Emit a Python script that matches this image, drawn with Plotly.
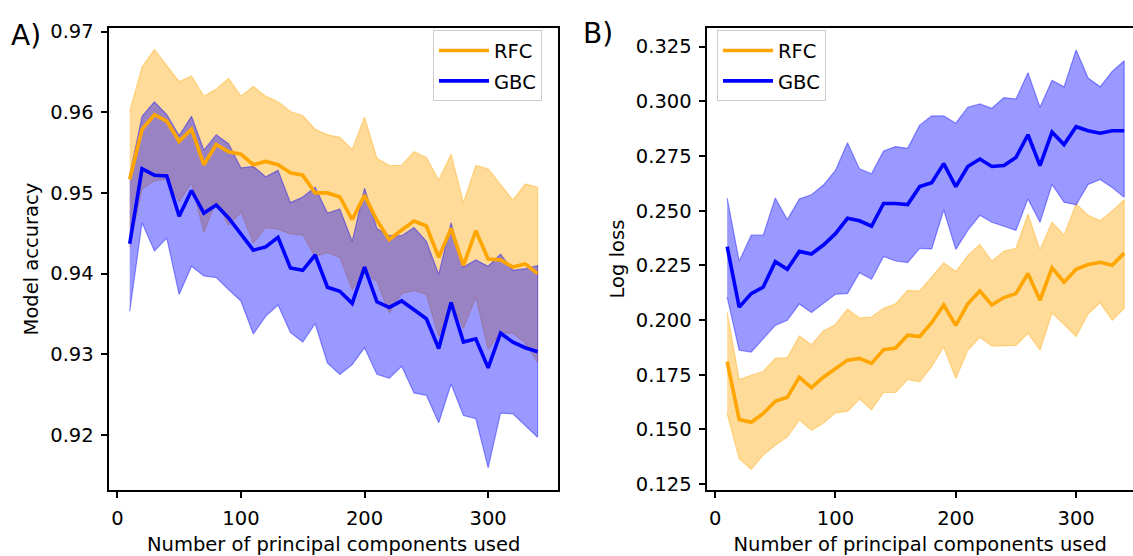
import plotly.graph_objects as go

# ---------------- data ----------------
n_components = [10, 20, 30, 40, 50, 60, 70, 80, 90, 100, 110, 120, 130, 140, 150, 160, 170,
                180, 190, 200, 210, 220, 230, 240, 250, 260, 270, 280, 290, 300, 310, 320, 330, 340]

# Panel A: model accuracy
rfc_acc_mean = [0.9517, 0.9579, 0.9597, 0.9589, 0.9564, 0.9579, 0.9535, 0.9560, 0.9551, 0.9548,
                0.9535, 0.9539, 0.9535, 0.9525, 0.9522, 0.9500, 0.9500, 0.9495, 0.9467, 0.9497,
                0.9466, 0.9442, 0.9454, 0.9465, 0.9459, 0.9420, 0.9456, 0.9410, 0.9453, 0.9418,
                0.9417, 0.9408, 0.9412, 0.9400]
rfc_acc_upper = [0.9601, 0.9656, 0.9678, 0.9658, 0.9638, 0.9645, 0.9620, 0.9629, 0.9642, 0.9620,
                 0.9632, 0.9620, 0.9613, 0.9601, 0.9596, 0.9579, 0.9572, 0.9569, 0.9554, 0.9594,
                 0.9543, 0.9534, 0.9534, 0.9551, 0.9544, 0.9516, 0.9548, 0.9488, 0.9534, 0.9530,
                 0.9510, 0.9491, 0.9511, 0.9507]
rfc_acc_lower = [0.9433, 0.9505, 0.9515, 0.9517, 0.9489, 0.9512, 0.9451, 0.9490, 0.9460, 0.9476,
                 0.9438, 0.9457, 0.9455, 0.9449, 0.9448, 0.9421, 0.9426, 0.9420, 0.9380, 0.9400,
                 0.9390, 0.9351, 0.9375, 0.9379, 0.9374, 0.9322, 0.9365, 0.9332, 0.9371, 0.9306,
                 0.9326, 0.9326, 0.9314, 0.9290]

gbc_acc_mean = [0.9437, 0.9530, 0.9522, 0.9521, 0.9471, 0.9503, 0.9475, 0.9485, 0.9469, 0.9449,
                0.9429, 0.9433, 0.9445, 0.9407, 0.9404, 0.9423, 0.9383, 0.9378, 0.9363, 0.9408,
                0.9365, 0.9358, 0.9366, 0.9355, 0.9344, 0.9307, 0.9364, 0.9315, 0.9319, 0.9283,
                0.9326, 0.9315, 0.9308, 0.9303]
gbc_acc_upper = [0.9522, 0.9595, 0.9613, 0.9597, 0.9571, 0.9595, 0.9553, 0.9572, 0.9561, 0.9531,
                 0.9533, 0.9520, 0.9528, 0.9488, 0.9495, 0.9507, 0.9475, 0.9480, 0.9440, 0.9506,
                 0.9456, 0.9447, 0.9447, 0.9457, 0.9440, 0.9399, 0.9463, 0.9408, 0.9417, 0.9409,
                 0.9424, 0.9404, 0.9406, 0.9410]
gbc_acc_lower = [0.9353, 0.9463, 0.9428, 0.9444, 0.9374, 0.9409, 0.9397, 0.9395, 0.9380, 0.9366,
                 0.9325, 0.9347, 0.9361, 0.9327, 0.9315, 0.9338, 0.9289, 0.9275, 0.9287, 0.9308,
                 0.9275, 0.9270, 0.9285, 0.9252, 0.9249, 0.9215, 0.9263, 0.9224, 0.9220, 0.9159,
                 0.9227, 0.9226, 0.9212, 0.9197]

# Panel B: log loss
rfc_loss_mean = [0.1810, 0.1546, 0.1533, 0.1573, 0.1629, 0.1647, 0.1739, 0.1691, 0.1739, 0.1777,
                 0.1817, 0.1825, 0.1802, 0.1865, 0.1872, 0.1931, 0.1925, 0.1988, 0.2069, 0.1976,
                 0.2074, 0.2133, 0.2069, 0.2103, 0.2121, 0.2213, 0.2091, 0.2239, 0.2173, 0.2232,
                 0.2254, 0.2264, 0.2251, 0.2306]
rfc_loss_upper = [0.2035, 0.1728, 0.1748, 0.1765, 0.1825, 0.1828, 0.1928, 0.1887, 0.1950, 0.1980,
                  0.2050, 0.2010, 0.2014, 0.2054, 0.2074, 0.2136, 0.2133, 0.2195, 0.2262, 0.2222,
                  0.2295, 0.2346, 0.2269, 0.2314, 0.2328, 0.2484, 0.2321, 0.2447, 0.2388, 0.2531,
                  0.2479, 0.2454, 0.2499, 0.2550]
rfc_loss_lower = [0.1573, 0.1366, 0.1318, 0.1383, 0.1428, 0.1466, 0.1543, 0.1496, 0.1528, 0.1576,
                  0.1582, 0.1639, 0.1590, 0.1669, 0.1669, 0.1728, 0.1718, 0.1788, 0.1877, 0.1733,
                  0.1862, 0.1921, 0.1881, 0.1884, 0.1884, 0.1940, 0.1862, 0.2032, 0.1980, 0.1925,
                  0.2029, 0.2079, 0.1999, 0.2054]

gbc_loss_mean = [0.2336, 0.2059, 0.2121, 0.2151, 0.2267, 0.2232, 0.2314, 0.2302, 0.2343, 0.2395,
                 0.2465, 0.2454, 0.2429, 0.2533, 0.2533, 0.2528, 0.2610, 0.2628, 0.2715, 0.2610,
                 0.2702, 0.2736, 0.2702, 0.2706, 0.2743, 0.2847, 0.2706, 0.2859, 0.2802, 0.2884,
                 0.2865, 0.2854, 0.2865, 0.2865]
gbc_loss_upper = [0.2558, 0.2269, 0.2388, 0.2388, 0.2558, 0.2459, 0.2554, 0.2573, 0.2617, 0.2684,
                  0.2810, 0.2691, 0.2669, 0.2773, 0.2793, 0.2785, 0.2891, 0.2933, 0.2933, 0.2900,
                  0.2973, 0.2988, 0.2968, 0.3017, 0.3010, 0.3131, 0.2973, 0.3096, 0.3066, 0.3235,
                  0.3106, 0.3066, 0.3136, 0.3185]
gbc_loss_lower = [0.2105, 0.1862, 0.1854, 0.1914, 0.1976, 0.1999, 0.2074, 0.2035, 0.2077, 0.2118,
                  0.2121, 0.2217, 0.2187, 0.2291, 0.2270, 0.2263, 0.2328, 0.2325, 0.2503, 0.2323,
                  0.2410, 0.2479, 0.2447, 0.2429, 0.2410, 0.2554, 0.2447, 0.2620, 0.2539, 0.2527,
                  0.2620, 0.2643, 0.2606, 0.2561]

acc_ticks = [0.92, 0.93, 0.94, 0.95, 0.96, 0.97]
loss_ticks = [0.125, 0.150, 0.175, 0.200, 0.225, 0.250, 0.275, 0.300, 0.325]
x_ticks = [0, 100, 200, 300]
model_names = ["RFC", "GBC"]

# ---------------- style ----------------
W, H = 1133, 556
FONT = "DejaVu Sans"
FS = 19.5
ORANGE = "#FFA500"
BLUE = "#0000FF"
ORANGE_FILL = "rgba(255,165,0,0.4)"
BLUE_FILL = "rgba(0,0,255,0.4)"


def px_x(p):
    return p / W


def px_y(p):
    return 1 - p / H


fig = go.Figure()


def band(x, upper, lower, fillc, xa, ya):
    fig.add_trace(go.Scatter(
        x=list(x) + list(x)[::-1],
        y=list(upper) + list(lower)[::-1],
        fill="toself", fillcolor=fillc, mode="lines",
        line=dict(color=fillc, width=1.2),
        hoverinfo="skip", showlegend=False, xaxis=xa, yaxis=ya))


def mean_line(x, y, name, color, xa, ya, legend, group):
    fig.add_trace(go.Scatter(
        x=x, y=y, name=name, mode="lines",
        line=dict(color=color, width=3.6),
        xaxis=xa, yaxis=ya, legend=legend, legendgroup=group))


# Panel A
band(n_components, rfc_acc_upper, rfc_acc_lower, ORANGE_FILL, "x", "y")
band(n_components, gbc_acc_upper, gbc_acc_lower, BLUE_FILL, "x", "y")
mean_line(n_components, rfc_acc_mean, model_names[0], ORANGE, "x", "y", "legend", "a1")
mean_line(n_components, gbc_acc_mean, model_names[1], BLUE, "x", "y", "legend", "a2")

# Panel B
band(n_components, rfc_loss_upper, rfc_loss_lower, ORANGE_FILL, "x2", "y2")
band(n_components, gbc_loss_upper, gbc_loss_lower, BLUE_FILL, "x2", "y2")
mean_line(n_components, rfc_loss_mean, model_names[0], ORANGE, "x2", "y2", "legend2", "b1")
mean_line(n_components, gbc_loss_mean, model_names[1], BLUE, "x2", "y2", "legend2", "b2")

axis_common = dict(
    showline=True, linecolor="black", linewidth=1.5,
    ticks="outside", ticklen=7, tickwidth=1.5, tickcolor="black",
    showgrid=False, zeroline=False,
    tickfont=dict(family=FONT, size=FS, color="black"),
    title_font=dict(family=FONT, size=FS, color="black"),
    ticklabelstandoff=3,
)

ydom = [px_y(495), px_y(21)]

legend_common = dict(
    xanchor="left", yanchor="top",
    bgcolor="rgba(255,255,255,0.8)", bordercolor="#cccccc", borderwidth=1,
    font=dict(family=FONT, size=FS, color="black"),
    tracegroupgap=2, itemwidth=50,
)

fig.update_layout(
    width=W, height=H,
    margin=dict(l=0, r=0, t=0, b=0),
    paper_bgcolor="white", plot_bgcolor="white",
    font=dict(family=FONT, size=FS, color="black"),
    xaxis=dict(domain=[px_x(109.3), px_x(558)], range=[-6.5, 356.5], anchor="y",
               tickvals=x_ticks, mirror=True,
               title=dict(text="Number of principal components used", standoff=13),
               **axis_common),
    yaxis=dict(domain=ydom, range=[0.9132, 0.9704], anchor="x",
               tickvals=acc_ticks, ticktext=[f"{v:.2f}" for v in acc_ticks], mirror=True,
               title=dict(text="Model accuracy", standoff=6),
               **axis_common),
    xaxis2=dict(domain=[px_x(707.3), 1.0], range=[-6.5, 347.3], anchor="y2",
                tickvals=x_ticks, mirror=True,
                title=dict(text="Number of principal components used", standoff=13),
                **axis_common),
    yaxis2=dict(domain=ydom, range=[0.1225, 0.3333], anchor="x2",
                tickvals=loss_ticks, ticktext=[f"{v:.3f}" for v in loss_ticks], mirror=False,
                title=dict(text="Log loss", standoff=6),
                **axis_common),
    legend=dict(x=px_x(433), y=px_y(23), **legend_common),
    legend2=dict(x=px_x(717), y=px_y(23), **legend_common),
    annotations=[
        dict(text="A)", x=px_x(9), y=px_y(28), xref="paper", yref="paper",
             xanchor="left", yanchor="middle", showarrow=False,
             font=dict(family=FONT, size=28, color="black")),
        dict(text="B)", x=px_x(581), y=px_y(26), xref="paper", yref="paper",
             xanchor="left", yanchor="middle", showarrow=False,
             font=dict(family=FONT, size=28, color="black")),
    ],
)

fig.write_html("out.html")
